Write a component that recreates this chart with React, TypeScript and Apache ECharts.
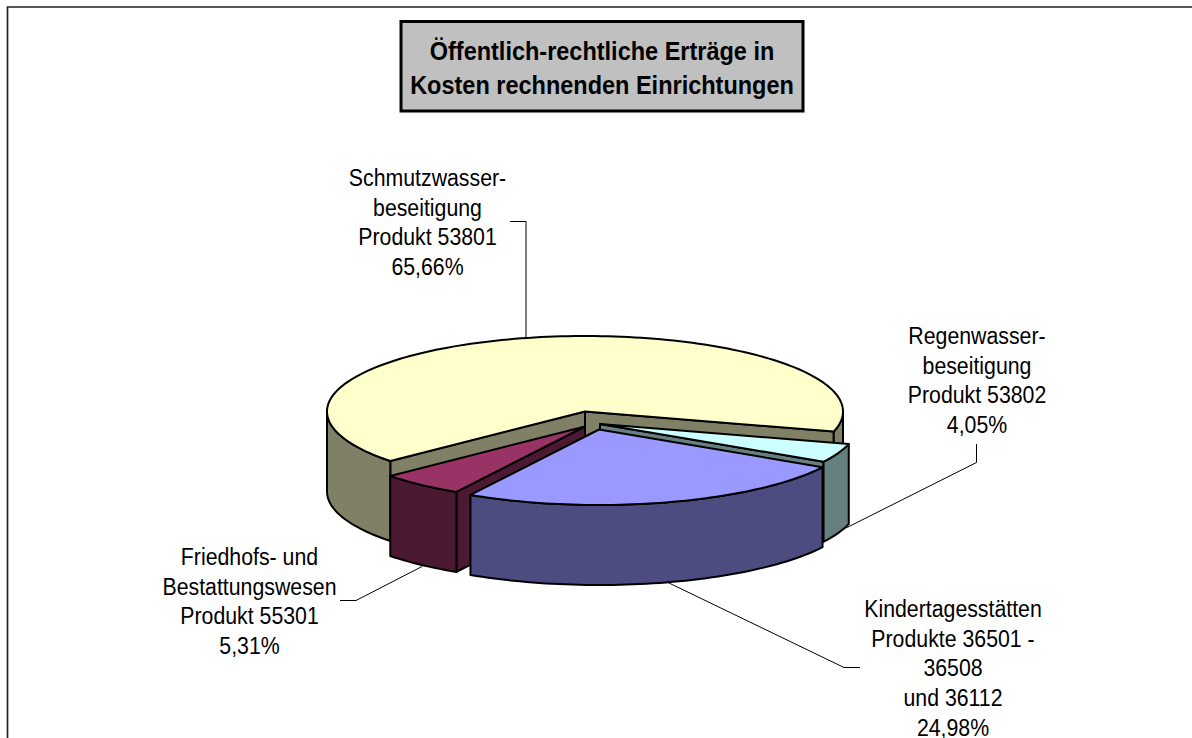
import React, { useEffect, useRef } from "react";
import * as echarts from "echarts";

// Data, clockwise from the yellow slice's leading edge
const categories = ["Schmutzwasser", "Regenwasser", "Kindertagesstätten", "Friedhofswesen"];
const shares = [65.66, 4.05, 24.98, 5.31];
const labelLines = [
  ["Schmutzwasser-", "beseitigung", "Produkt 53801"],
  ["Regenwasser-", "beseitigung", "Produkt 53802"],
  ["Kindertagesstätten", "Produkte 36501 -", "36508", "und 36112"],
  ["Friedhofs- und", "Bestattungswesen", "Produkt 55301"],
];
const titleLines = ["Öffentlich-rechtliche Erträge in", "Kosten rechnenden Einrichtungen"];

// Styles
const topColors = ["#FFFFCC", "#CCFFFF", "#9999FF", "#993366"];
const sideColors = ["#808066", "#668080", "#4C4C80", "#4C1933"];
const paintOrder = [0, 1, 3, 2];
const explodeX = [0, 15, 14, 0];
const explodeY = [0, 12.5, 18, 15];
const labelCenters = [
  [427.5, 222],
  [977, 380],
  [953, 668],
  [249.5, 601],
];
const leaderLines = [
  [[510, 221.5], [526, 221.5], [526, 338]],
  [[976.5, 444], [976.5, 462.5], [846, 528]],
  [[860, 667.5], [844, 667.5], [668, 582.5]],
  [[340, 600.5], [356, 600.5], [422, 566.5]],
];

const CX = 585;
const CY = 411.5;
const RX = 258;
const RY = 75.5;
const DEPTH = 80;
const START_ANGLE = 139;
const TEXT_STRETCH = 1.13;
const FONT = '"Liberation Sans", Arial, sans-serif';

const rad = (d: number) => (d * Math.PI) / 180;

function renderSlice(params: any, api: any) {
  const i = api.value(1) as number;
  const total = shares.reduce((a, b) => a + b, 0);
  const before = shares.slice(0, i).reduce((a, b) => a + b, 0);
  const t0 = START_ANGLE + (before / total) * 360;
  const t1 = t0 + ((api.value(0) as number) / total) * 360;
  const ox = CX + explodeX[i];
  const oy = CY + explodeY[i];
  const pt = (t: number, d = 0): number[] => [
    ox + RX * Math.cos(rad(t)),
    oy + RY * Math.sin(rad(t)) + d,
  ];
  const arc = (a: number, b: number, d = 0) => {
    const n = Math.max(2, Math.ceil(Math.abs(b - a) / 1.5));
    const out: number[][] = [];
    for (let k = 0; k <= n; k++) out.push(pt(a + ((b - a) * k) / n, d));
    return out;
  };
  const base = paintOrder.indexOf(i) * 10;
  const lineStyle = { stroke: "#000", lineWidth: 2, lineJoin: "round" };
  const children: any[] = [];
  const add = (points: number[][], fill: string, z: number) =>
    children.push({
      type: "polygon",
      z2: base + z,
      shape: { points },
      style: { fill, ...lineStyle },
    });
  const face = (t: number) =>
    add([[ox, oy], pt(t), pt(t, DEPTH), [ox, oy + DEPTH]], sideColors[i], 1);
  if (Math.cos(rad(t0)) < 0) face(t0);
  if (Math.cos(rad(t1)) > 0) face(t1);
  for (const off of [0, 360]) {
    const a = Math.max(t0, off);
    const b = Math.min(t1, off + 180);
    if (b > a) add([...arc(a, b), ...arc(b, a, DEPTH)], sideColors[i], 2);
  }
  add([[ox, oy], ...arc(t0, t1)], topColors[i], 3);
  return { type: "group", children };
}

export default function App() {
  const ref = useRef<HTMLDivElement>(null);
  useEffect(() => {
    const chart = echarts.init(ref.current!, null, { renderer: "svg" });
    const labels = labelLines.map((lines, i) => ({
      type: "text",
      x: labelCenters[i][0],
      y: labelCenters[i][1],
      scaleY: TEXT_STRETCH,
      style: {
        text: [...lines, shares[i].toFixed(2).replace(".", ",") + "%"].join("\n"),
        x: 0,
        y: 0,
        fill: "#000",
        font: `21.3px ${FONT}`,
        lineHeight: 29.7 / TEXT_STRETCH,
        textAlign: "center",
        textVerticalAlign: "middle",
      },
    }));
    chart.setOption({
      animation: false,
      backgroundColor: "#fff",
      tooltip: { show: false },
      graphic: [
        {
          type: "rect",
          z: -1,
          shape: { x: 7.5, y: 7, width: 1400, height: 1000 },
          style: { fill: "#fff", stroke: "#222", lineWidth: 1.7 },
        },
        {
          type: "rect",
          shape: { x: 401, y: 21.5, width: 402, height: 89.5 },
          style: { fill: "#C0C0C0", stroke: "#000", lineWidth: 3 },
        },
        {
          type: "text",
          x: 602,
          y: 67.5,
          scaleY: TEXT_STRETCH,
          style: {
            text: titleLines.join("\n"),
            x: 0,
            y: 0,
            fill: "#000",
            font: `bold 23.5px ${FONT}`,
            lineHeight: 34 / TEXT_STRETCH,
            textAlign: "center",
            textVerticalAlign: "middle",
          },
        },
        ...leaderLines.map((points) => ({
          type: "polyline",
          shape: { points },
          style: { stroke: "#000", lineWidth: 1, fill: "none" },
        })),
        ...labels,
      ],
      series: [
        {
          type: "custom",
          name: "Erträge",
          coordinateSystem: "none",
          silent: true,
          renderItem: renderSlice,
          data: shares.map((v, i) => ({ name: categories[i], value: [v, i] })),
        },
      ],
    });
    return () => chart.dispose();
  }, []);
  return (
    <div
      ref={ref}
      style={{ position: "absolute", left: 0, top: 0, width: 1192, height: 738, overflow: "hidden" }}
    />
  );
}
